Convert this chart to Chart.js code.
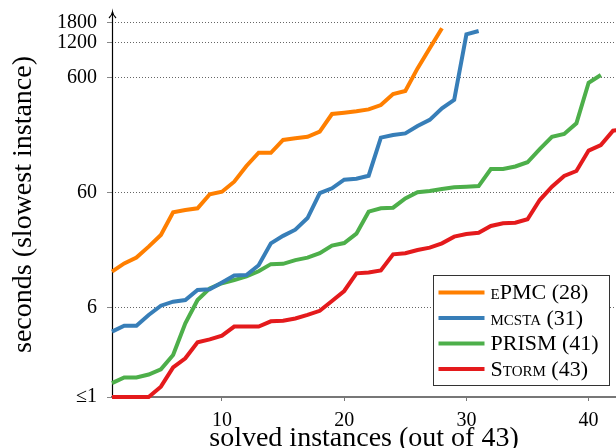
<!DOCTYPE html>
<html>
<head>
<meta charset="utf-8">
<script src="https://cdn.jsdelivr.net/npm/chart.js@4"></script>
<style>
  html, body { margin: 0; padding: 0; background: #fff; }
  #wrap { width: 616px; height: 448px; }
</style>
</head>
<body>
<div id="wrap"><canvas id="myChart" width="616" height="448"></canvas></div>
<script>
// seconds for the slowest solved instance
const epmc = [12.3, 14.5, 16.3, 20.3, 25.6, 40.4, 42.3, 43.7, 58, 61, 74.5, 102, 133, 133, 172, 178, 183, 203, 289, 297, 305, 317, 346, 431, 458, 720, 1077, 1607];
const mcsta = [3.7, 4.17, 4.17, 5.17, 6.22, 6.74, 6.97, 8.51, 8.64, 9.9, 11.4, 11.5, 14, 21.7, 25.2, 28.5, 36, 59.3, 65.3, 77.5, 79, 84, 180, 190, 196, 227, 257, 324, 383, 1426, 1523];
const prism = [1.32, 1.48, 1.48, 1.57, 1.74, 2.32, 4.37, 6.97, 8.81, 9.75, 10.4, 11.2, 12.4, 14.3, 14.4, 15.5, 16.3, 17.8, 20.7, 21.8, 26.3, 40.9, 43.7, 44.3, 53.4, 60.3, 61.8, 64.4, 66.6, 67.4, 68.3, 96, 96, 101, 110, 143, 183, 194, 240, 541, 631];
const storm = [1, 1, 1, 1, 1.23, 1.81, 2.17, 2.99, 3.17, 3.42, 4.1, 4.1, 4.1, 4.55, 4.61, 4.82, 5.17, 5.62, 6.83, 8.35, 11.9, 12.1, 12.6, 17.4, 17.8, 19, 19.9, 21.7, 24.8, 26.1, 26.8, 30.7, 32.4, 32.8, 35.1, 51.6, 67.4, 83.5, 92.3, 139, 155, 207, 215];

const toolNames = ['ePMC (28)', 'mcsta (31)', 'PRISM (41)', 'Storm (43)'];
const toolColors = ['#ff7f00', '#377eb8', '#4daf4a', '#e41a1c'];

const yTicks = [1, 6, 60, 600, 1200, 1800];
const yTickLabels = ['≤1', '6', '60', '600', '1200', '1800'];
const xTicks = [10, 20, 30, 40];

const serif = '"Liberation Serif", "Times New Roman", serif';

function points(arr) {
  return arr.map((v, i) => ({ x: i + 1, y: v }));
}

// y axis with arrow head + the boxed legend in the lower right
const extras = {
  id: 'extras',
  beforeDatasetsDraw(chart) {
    const ctx = chart.ctx, a = chart.chartArea;
    const x = Math.round(a.left) + 0.5;
    ctx.save();
    ctx.strokeStyle = '#000';
    ctx.lineWidth = 1.2;
    ctx.beginPath();
    ctx.moveTo(x, a.bottom);
    ctx.lineTo(x, a.top);
    ctx.stroke();
    ctx.beginPath();
    ctx.moveTo(x - 3.5, a.top + 6);
    ctx.quadraticCurveTo(x - 0.5, a.top + 3, x, a.top);
    ctx.quadraticCurveTo(x + 0.5, a.top + 3, x + 3.5, a.top + 6);
    ctx.stroke();
    ctx.restore();
  },
  afterDatasetsDraw(chart) {
    const ctx = chart.ctx;
    const bx = 433.5, by = 275.5, bw = 176, bh = 110;
    ctx.save();
    ctx.fillStyle = '#fff';
    ctx.fillRect(bx, by, bw, bh);
    ctx.strokeStyle = '#333';
    ctx.lineWidth = 1;
    ctx.strokeRect(bx, by, bw, bh);
    ctx.font = 'small-caps 22px ' + serif;
    ctx.textBaseline = 'middle';
    ctx.fillStyle = '#000';
    chart.data.datasets.forEach((ds, i) => {
      const ry = by + 17 + i * 25.5;
      ctx.strokeStyle = ds.borderColor;
      ctx.lineWidth = 4;
      ctx.beginPath();
      ctx.moveTo(bx + 5, ry);
      ctx.lineTo(bx + 51, ry);
      ctx.stroke();
      ctx.fillText(ds.label, bx + 57, ry + 1);
    });
    ctx.restore();
  }
};

const ctx = document.getElementById('myChart');
new Chart(ctx, {
  type: 'line',
  data: {
    datasets: [epmc, mcsta, prism, storm].map((arr, i) => ({
      label: toolNames[i],
      data: points(arr),
      borderColor: toolColors[i],
      backgroundColor: toolColors[i],
      borderWidth: 4,
      pointRadius: 0,
      tension: 0,
      clip: false
    }))
  },
  options: {
    responsive: false,
    animation: false,
    events: [],
    layout: { padding: { top: 12, left: 0, right: 0, bottom: 0 } },
    plugins: { legend: { display: false }, tooltip: { enabled: false } },
    scales: {
      x: {
        type: 'linear',
        min: 1,
        max: 42.24,
        afterFit: s => { s.height = 51; s.paddingLeft = 0; s.paddingRight = 0; },
        afterBuildTicks: s => { s.ticks = xTicks.map(v => ({ value: v })); },
        grid: { drawOnChartArea: false, drawTicks: true, tickLength: 4, tickColor: '#777', tickWidth: 1 },
        border: { color: '#777', width: 2 },
        ticks: { autoSkip: false, maxRotation: 0, padding: 8, color: '#000', font: { family: serif, size: 20 } },
        title: {
          display: true,
          text: 'solved instances (out of 43)',
          color: '#000',
          font: { family: serif, size: 28, lineHeight: 1 },
          padding: { top: 0, bottom: -5 }
        }
      },
      y: {
        type: 'logarithmic',
        min: 1,
        max: 2228,
        afterFit: s => { s.width = 112; s.paddingTop = 0; s.paddingBottom = 0; },
        afterBuildTicks: s => { s.ticks = yTicks.map(v => ({ value: v })); },
        grid: {
          color: c => (c.tick && c.tick.value === 1 ? 'rgba(0,0,0,0)' : '#666'),
          lineWidth: 1,
          drawTicks: true,
          tickLength: 5,
          tickColor: '#888'
        },
        border: { display: false, dash: [1, 2] },
        ticks: {
          autoSkip: false,
          padding: 10,
          color: '#000',
          font: { family: serif, size: 20 },
          callback: (v) => {
            const k = yTicks.indexOf(v);
            return k >= 0 ? yTickLabels[k] : '';
          }
        },
        title: {
          display: true,
          text: 'seconds (slowest instance)',
          color: '#000',
          font: { family: serif, size: 28, lineHeight: 1 },
          padding: { top: 10, bottom: 0 }
        }
      }
    }
  },
  plugins: [extras]
});
</script>
</body>
</html>
